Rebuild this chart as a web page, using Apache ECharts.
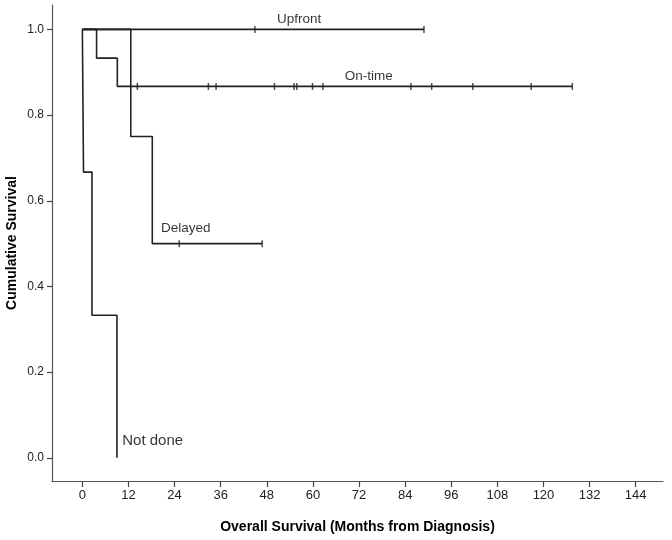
<!DOCTYPE html>
<html>
<head>
<meta charset="utf-8">
<script src="https://cdn.jsdelivr.net/npm/echarts@6/dist/echarts.min.js"></script>
<style>
html,body{margin:0;padding:0;background:#fff;}
#chart{width:672px;height:540px;}
</style>
</head>
<body>
<div id="chart"></div>
<script>
// Kaplan-Meier step curves: [month, cumulative survival]
var upfrontCurve = [[0, 1], [88.9, 1]];
var ontimeCurve  = [[0, 1], [3.7, 0.933], [9.1, 0.867], [127.5, 0.867]];
var delayedCurve = [[0, 1], [12.6, 0.75], [18.2, 0.5], [46.8, 0.5]];
var notdoneCurve = [[0, 1], [0.3, 0.667], [2.5, 0.333], [9.0, 0]];

// Censoring times (months)
var upfrontCensor = [44.9, 88.9];
var ontimeCensor  = [14.3, 32.8, 34.8, 50.0, 55.1, 55.8, 59.9, 62.6, 85.5, 90.9, 101.6, 116.8, 127.5];
var delayedCensor = [25.2, 46.8];

// Curve labels
var labelNames = ['Upfront', 'On-time', 'Delayed', 'Not done'];
var labelX     = [56.4, 74.5, 26.9, 18.3];
var labelY     = [1.024, 0.890, 0.537, 0.040];
var labelSizes = [13.5, 13.5, 13.5, 15];

// Axis ticks
var xTicks = [0, 12, 24, 36, 48, 60, 72, 84, 96, 108, 120, 132, 144];
var yTicks = [0, 0.2, 0.4, 0.6, 0.8, 1.0];

function survAt(curve, t) {
  var v = curve[0][1];
  for (var i = 0; i < curve.length; i++) {
    if (curve[i][0] <= t) v = curve[i][1];
  }
  return v;
}
function censorPoints(curve, times) {
  return times.map(function (t) { return [t, survAt(curve, t)]; });
}

var lineColor = '#222';
function stepSeries(data) {
  return {
    type: 'line', step: 'end', data: data, showSymbol: false, symbol: 'none',
    lineStyle: { color: lineColor, width: 1.6 }, silent: true, z: 3
  };
}
function censorSeries(data) {
  return {
    type: 'scatter', data: data, symbol: 'rect', symbolSize: [1.5, 7],
    itemStyle: { color: lineColor }, silent: true, z: 4
  };
}

var labelData = labelNames.map(function (n, i) {
  return {
    value: [labelX[i], labelY[i]],
    label: { show: true, formatter: n, position: 'inside', fontSize: labelSizes[i],
      fontFamily: 'Liberation Sans, Arial, sans-serif', color: '#000' }
  };
});

var chart = echarts.init(document.getElementById('chart'), null, { renderer: 'canvas' });
chart.setOption({
  animation: false,
  backgroundColor: '#fff',
  grid: { left: 52, right: 9, top: 5, bottom: 59, containLabel: false, outerBoundsMode: 'none' },
  xAxis: {
    type: 'value', min: -7.9, max: 151.1,
    name: 'Overall Survival (Months from Diagnosis)',
    nameLocation: 'middle', nameGap: 39, nameMoveOverlap: false,
    nameTextStyle: { fontSize: 14, fontWeight: 'bold', color: '#000', fontFamily: 'Liberation Sans, Arial, sans-serif' },
    axisLine: { show: true, onZero: false, lineStyle: { color: '#555', width: 1.2 } },
    axisTick: { show: true, customValues: xTicks, length: 6, inside: false, lineStyle: { color: '#444', width: 1.2 } },
    axisLabel: { customValues: xTicks, fontSize: 13, color: '#222', margin: 8, fontFamily: 'Liberation Sans, Arial, sans-serif' },
    splitLine: { show: false }
  },
  yAxis: {
    type: 'value', min: -0.054, max: 1.057,
    name: 'Cumulative Survival',
    nameLocation: 'middle', nameGap: 33, nameRotate: 90, nameMoveOverlap: false,
    nameTextStyle: { fontSize: 14, fontWeight: 'bold', color: '#000', fontFamily: 'Liberation Sans, Arial, sans-serif' },
    axisLine: { show: true, onZero: false, lineStyle: { color: '#555', width: 1.2 } },
    axisTick: { show: true, customValues: yTicks, length: 5, lineStyle: { color: '#444', width: 1.2 } },
    axisLabel: { customValues: yTicks, fontSize: 12, color: '#222', margin: 8,
      fontFamily: 'Liberation Sans, Arial, sans-serif',
      formatter: function (v) { return Number(v).toFixed(1); } },
    splitLine: { show: false }
  },
  series: [
    stepSeries(notdoneCurve),
    stepSeries(delayedCurve),
    stepSeries(ontimeCurve),
    stepSeries(upfrontCurve),
    censorSeries(censorPoints(upfrontCurve, upfrontCensor)),
    censorSeries(censorPoints(ontimeCurve, ontimeCensor)),
    censorSeries(censorPoints(delayedCurve, delayedCensor)),
    {
      type: 'scatter', data: labelData, symbolSize: 0, silent: true, z: 5,
      itemStyle: { color: 'transparent' }
    }
  ]
});
</script>
</body>
</html>
